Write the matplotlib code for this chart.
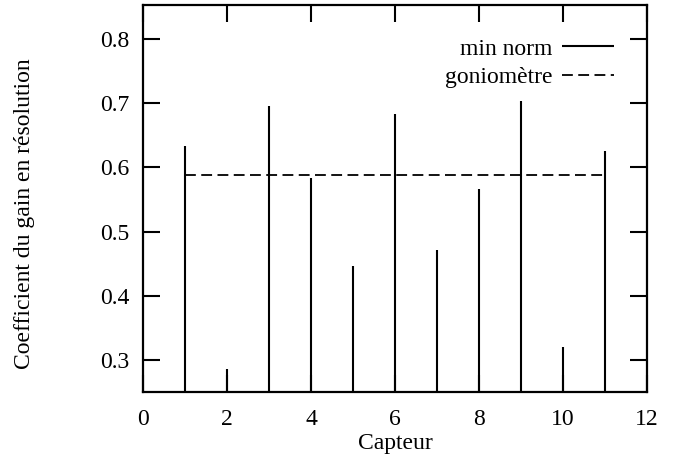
import matplotlib
matplotlib.use("Agg")
import matplotlib.pyplot as plt

capteurs = [1, 2, 3, 4, 5, 6, 7, 8, 9, 10, 11]
min_norm = [0.634, 0.286, 0.695, 0.584, 0.447, 0.683, 0.472, 0.566, 0.703, 0.320, 0.626]
goniometre_x = [1, 11]
goniometre_y = [0.588, 0.588]
xticks = [0, 2, 4, 6, 8, 10, 12]
yticks = [0.3, 0.4, 0.5, 0.6, 0.7, 0.8]

plt.rcParams['font.family'] = ['Liberation Serif', 'DejaVu Serif']

fig = plt.figure(figsize=(6.73, 4.57), dpi=100)
ax = fig.add_axes([0.2125, 0.142, 0.749, 0.847])

ymin = 0.25
ax.vlines(capteurs, ymin, min_norm, color='black', linewidth=1.5, label='min norm')
ax.plot(goniometre_x, goniometre_y, color='black', linewidth=1.3,
        linestyle=(0, (6, 3)), label='goniomètre')

ax.set_xlim(0, 12)
ax.set_ylim(ymin, 0.853)
ax.set_xticks(xticks)
ax.set_yticks(yticks)
ax.set_yticklabels([f"{v:.1f}" for v in yticks])
ax.tick_params(direction='in', length=12, width=1.5, top=True, right=True,
               labelsize=17)
ax.tick_params(axis='x', pad=12)
ax.tick_params(axis='y', pad=10)
for s in ax.spines.values():
    s.set_linewidth(1.6)

ax.set_xlabel('Capteur', fontsize=17, labelpad=2)
ax.set_ylabel('Coefficient du gain en résolution', fontsize=17)
ax.yaxis.set_label_coords(-0.215, 0.46)

leg = ax.legend(loc='upper right', frameon=False, markerfirst=False,
                fontsize=17, handlelength=2.2, handletextpad=0.4,
                labelspacing=0.3, borderaxespad=1.0,
                bbox_to_anchor=(1.0, 1.0))
for t in leg.get_texts():
    t.set_ha('right')

fig.savefig('out.png', dpi=100)
